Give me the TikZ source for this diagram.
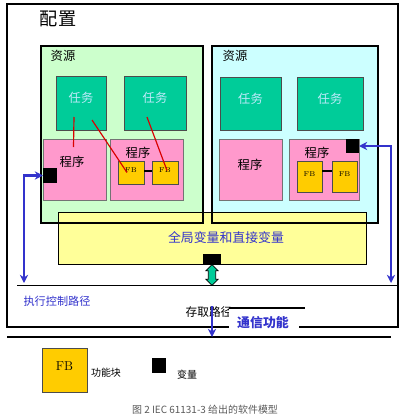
\documentclass[tikz,border=0pt]{standalone}
\usepackage{fontspec}
\newfontfamily\cjk{Noto Sans CJK SC}
\usetikzlibrary{fit,calc,arrows.meta,shapes.arrows}
\definecolor{resgreen}{HTML}{CCFFCC}
\definecolor{rescyan}{HTML}{CCFFFF}
\definecolor{taskteal}{HTML}{00CC99}
\definecolor{progpink}{HTML}{FF99CC}
\definecolor{fbgold}{HTML}{FFCC00}
\definecolor{globyellow}{HTML}{FFFF99}
\definecolor{ctlblue}{HTML}{3333CC}

\begin{document}
\begin{tikzpicture}[x=0.03cm,y=-0.03cm,
    box/.style={inner sep=0pt,outer sep=0pt},
    resbox/.style={box,draw,line width=1.2pt},
    taskbox/.style={box,draw=black!70,fill=taskteal,line width=0.6pt,font=\cjk\fontsize{10.5}{12}\selectfont,text=white!75!cyan},
    progbox/.style={box,draw=black!55,fill=progpink,line width=0.6pt},
    fbbox/.style={box,draw=black!70,fill=fbgold,line width=0.6pt,font=\fontsize{6}{7}\selectfont},
    varbox/.style={box,fill=black},
    cntext/.style={font=\cjk\fontsize{10.5}{12}\selectfont},
    link/.style={red!85!black,line width=1pt},
    ctl/.style={ctlblue,line width=1.8pt,{Stealth[length=7pt,width=7pt]}-{Stealth[length=7pt,width=7pt]}},
]
\useasboundingbox (0,0) rectangle (405,419);

\node[box,draw,line width=2.2pt,fit={(7,4) (398,327)}] (config) {};
\node[cntext,font=\cjk\fontsize{15.5}{17}\selectfont] (configlab) at (58,19) {配置};

\node[resbox,fill=resgreen,fit={(41,46) (203,223)}] (res1) {};
\node[resbox,fill=rescyan,fit={(212,46) (378,223)}] (res2) {};
\node[cntext] (reslab1) at (63,56) {资源};
\node[cntext] (reslab2) at (235,56) {资源};

\node[taskbox,fit={(56,76) (106,130)}] (t1) {任务};
\node[taskbox,fit={(124,76) (186,130)}] (t2) {任务};
\node[taskbox,fit={(220,77) (281,130)}] (t3) {任务};
\node[taskbox,fit={(297,77) (363,130)}] (t4) {任务};

\node[progbox,fit={(43,139) (106,200)}] (p1) {};
\node[progbox,fit={(110,139) (183,200)}] (p2) {};
\node[progbox,fit={(219,139) (282,200)}] (p3) {};
\node[progbox,fit={(289,139) (359,200)}] (p4) {};
\node[cntext] (plab1) at (72,162) {程序};
\node[cntext] (plab2) at (138,153) {程序};
\node[cntext] (plab3) at (250,165) {程序};
\node[cntext] (plab4) at (317,153) {程序};

\node[fbbox,fit={(118,161) (144,184)}] (f1) {FB};
\node[fbbox,fit={(152,161) (178,184)}] (f2) {FB};
\node[fbbox,fit={(297,161) (322,192)}] (f3) {FB};
\node[fbbox,fit={(332,161) (357,192)}] (f4) {FB};
\draw[line width=2.5pt] (f1.east |- 0,171) -- (f2.west |- 0,171);
\draw[line width=2.5pt] (f3.east |- 0,171) -- (f4.west |- 0,171);

\draw[link] ($(t1.center)+(-7,14)$) -- ($(p1.north)+(-1,8)$);
\draw[link] ($(t1.center)+(11,17)$) -- ($(f1.center)+(-4,0)$);
\draw[link] ($(t2.center)+(-8,14)$) -- ($(f2.center)+(2,-2)$);

\node[varbox,fit={(43,168) (57,183)}] (v1) {};
\node[varbox,fit={(346,139) (359,153)}] (v2) {};

% global and direct variables over the resources
\node[box,draw,line width=0.6pt,fill=globyellow,fit={(58,212) (366,264)}] (glob) {};
\draw[line width=1.2pt] (res1.south west) rectangle (res1.north east);
\draw[line width=1.2pt] (res2.south west) rectangle (res2.north east);
\node[cntext,text=ctlblue,font=\cjk\fontsize{11}{13}\selectfont] (globlab) at (226,238) {全局变量和直接变量};
\node[varbox,fit={(203,254) (221,265)}] (v3) {};

\node[double arrow,rotate=90,draw,line width=0.6pt,fill=taskteal,minimum height=0.62cm,inner sep=0.1cm,double arrow head extend=0.07cm] (acc) at (212,275) {};

\coordinate (pathl) at (17,285);
\coordinate (pathr) at (398,285);
\draw[line width=0.6pt] (pathl) -- (pathr);

\coordinate (ctll) at (24,283);
\coordinate (ctlr) at (391,283);
\draw[ctl] (ctll) |- (v1.west);
\draw[ctl] (ctlr) |- (v2.east);

\node[cntext,text=ctlblue,font=\cjk\fontsize{9.5}{11}\selectfont] (ctllab) at (57,301) {执行控制路径};
\node[cntext,font=\cjk\fontsize{10}{12}\selectfont] (acclab) at (209,312) {存取路径};

\node[box,fill=white,fit={(229,308) (299,331)}] (comm) {};
\draw[line width=2.2pt] (comm.north west) -- ($(comm.north east)+(6,0)$);
\node[cntext,text=ctlblue,font=\cjk\bfseries\fontsize{11}{13}\selectfont] (commlab) at (263,323) {通信功能};

\coordinate (netl) at (7,337);
\coordinate (netr) at (391,337);
\draw[line width=2.2pt] (netl) -- (netr);
\coordinate (accb) at (212,306);
\draw[ctlblue,line width=1.8pt,-{Stealth[length=7pt,width=7pt]}] (accb) -- (accb |- netl);

% legend
\node[box,draw=black!70,fill=fbgold,line width=0.6pt,font=\fontsize{11}{13}\selectfont,fit={(42,348) (87,392)}] (legfb) {FB};
\node[cntext,font=\cjk\fontsize{8.5}{10}\selectfont] (legfblab) at (106,373) {功能块};
\node[varbox,fit={(152,358) (166,373)}] (legvar) {};
\node[cntext,font=\cjk\fontsize{8.5}{10}\selectfont] (legvarlab) at (187,375) {变量};

\node[cntext,text=black!65,font=\cjk\fontsize{8.5}{10}\selectfont] (caption) at (205,410) {图 2 IEC 61131-3 给出的软件模型};
\end{tikzpicture}
\end{document}
